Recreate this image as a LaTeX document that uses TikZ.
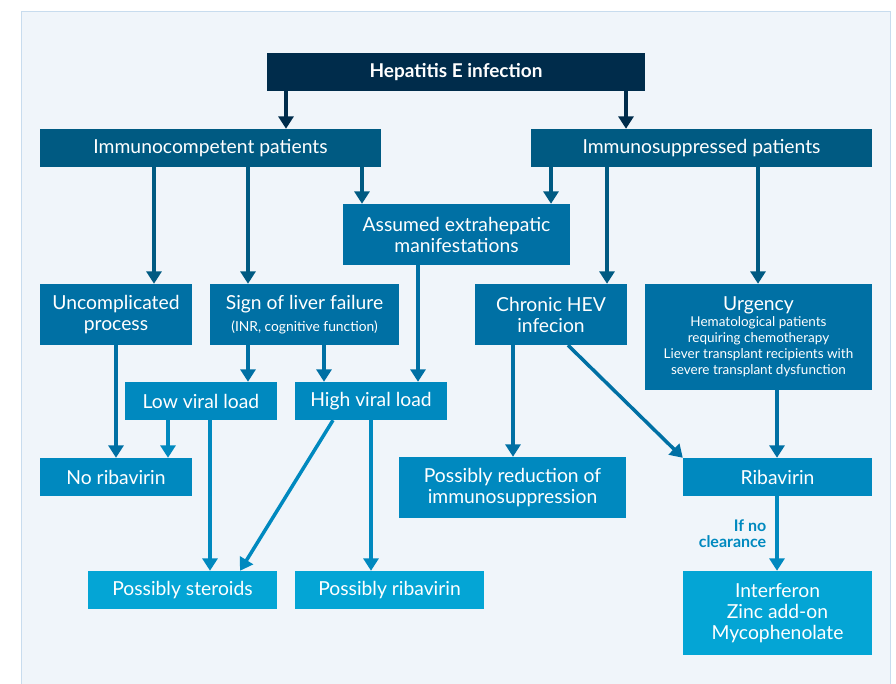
\documentclass[tikz,border=0pt]{standalone}
\usepackage{fontspec}
\setmainfont{Lato}
\usepackage{xcolor}
\usepackage{tikz}
\usetikzlibrary{arrows.meta,positioning,calc}

\definecolor{panel}{HTML}{F0F5FA}
\definecolor{panelline}{HTML}{C8DCEE}
\definecolor{navy}{HTML}{002C4B}
\definecolor{tealA}{HTML}{005A82}
\definecolor{tealB}{HTML}{0070A4}
\definecolor{tealC}{HTML}{0089BF}
\definecolor{tealD}{HTML}{04A5D5}

\begin{document}
\begin{tikzpicture}[x=1pt,y=-1pt,>={Triangle[width=15pt,length=12.5pt]},
  box/.style={inner sep=0pt,align=center,text=white,font=\fontsize{19.3}{21}\selectfont},
  flow/.style={->,line width=3.5pt},
  note/.style={inner sep=0pt,align=right,text=tealC,font=\bfseries\fontsize{16}{16}\selectfont}]
 \useasboundingbox (0,0) rectangle (896,683);
 \clip (0,0) rectangle (896,683);
 \fill[panel] (21,11) rectangle (890,700);
 \draw[panelline,line width=1pt] (21,700) |- (890,11) -- (890,700);

 \node[box,fill=navy,minimum width=378pt,minimum height=38pt,font=\bfseries\fontsize{19}{21}\selectfont] (hep) at (456,72) {Hepatitis E infection};
 \node[box,fill=tealA,minimum width=341pt,minimum height=38pt] (comp) at (210.5,148) {Immunocompetent patients};
 \node[box,fill=tealA,minimum width=341pt,minimum height=38pt] (supp) at (701.5,148) {Immunosuppressed patients};
 \node[box,fill=tealB,minimum width=227pt,minimum height=61pt] (extra) at (456.5,234.5) {Assumed extrahepatic\\manifestations};
 \node[box,fill=tealB,minimum width=152pt,minimum height=61pt] (unc) at (116,314.5) {Uncomplicated\\process};
 \node[box,fill=tealB,minimum width=189pt,minimum height=61pt] (liver) at (304.5,314.5)
  {Sign of liver failure\\[1pt]{\fontsize{13.8}{16}\selectfont(INR, cognitive function)}};
 \node[box,fill=tealB,minimum width=152pt,minimum height=61pt] (chron) at (551,314.5) {Chronic HEV\\infecion};
 \node[box,fill=tealB,minimum width=227pt,minimum height=106pt,text width=227pt,align=flush center] (urg) at (758.5,337)
  {Urgency\par{\fontsize{13.5}{16}\selectfont Hematological patients\\requiring chemotherapy\\Liever transplant recipients with\\severe transplant dysfunction\par}};
 \node[box,fill=tealC,minimum width=152pt,minimum height=38pt] (low) at (201,401) {Low viral load};
 \node[box,fill=tealC,minimum width=152pt,minimum height=38pt] (high) at (371,401) {High viral load};
 \node[box,fill=tealC,minimum width=152pt,minimum height=38pt] (norib) at (116,477) {No ribavirin};
 \node[box,fill=tealC,minimum width=227pt,minimum height=61pt] (reduce) at (512.5,487.5) {Possibly reduction of\\immunosuppression};
 \node[box,fill=tealC,minimum width=189pt,minimum height=38pt] (rib) at (777.5,477) {Ribavirin};
 \node[box,fill=tealD,minimum width=189pt,minimum height=38pt] (ster) at (182.5,590) {Possibly steroids};
 \node[box,fill=tealD,minimum width=189pt,minimum height=38pt] (prib) at (389.5,590) {Possibly ribavirin};
 \node[box,fill=tealD,minimum width=189pt,minimum height=84pt] (ifn) at (777.5,613) {Interferon\\Zinc add-on\\Mycophenolate};

 % first split
 \draw[flow,navy] (hep.south -| 286,0) -- (comp.north -| 286,0);
 \draw[flow,navy] (hep.south -| 626,0) -- (supp.north -| 626,0);
 % immunocompetent
 \draw[flow,tealA] (comp.south -| 154,0) -- (unc.north -| 154,0);
 \draw[flow,tealA] (comp.south -| 248,0) -- (liver.north -| 248,0);
 \draw[flow,tealA] (comp.south -| 362,0) -- (extra.north -| 362,0);
 % immunosuppressed
 \draw[flow,tealA] (supp.south -| 551,0) -- (extra.north -| 551,0);
 \draw[flow,tealA] (supp.south -| 607,0) -- (chron.north -| 607,0);
 \draw[flow,tealA] (supp.south -| 758,0) -- (urg.north -| 758,0);
 % third row
 \draw[flow,tealB] (unc.south) -- (norib.north);
 \draw[flow,tealB] (liver.south -| 248,0) -- (low.north -| 248,0);
 \draw[flow,tealB] (liver.south -| 324,0) -- (high.north -| 324,0);
 \draw[flow,tealB] (extra.south -| 418,0) -- (high.north -| 418,0);
 \draw[flow,tealB] (chron.south -| 513,0) -- (reduce.north -| 513,0);
 \draw[flow,tealB] (chron.south -| 568,0) -- (rib.north west);
 \draw[flow,tealB] (urg.south -| 777,0) -- (rib.north -| 777,0);
 % viral load
 \draw[flow,tealC] (low.south -| 168,0) -- (norib.north -| 168,0);
 \draw[flow,tealC] (low.south -| 210,0) -- (ster.north -| 210,0);
 \draw[flow,tealC] (high.south -| 333,0) -- (ster.north -| 240,0);
 \draw[flow,tealC] (high.south -| 371,0) -- (prib.north -| 371,0);
 \draw[flow,tealC] (rib.south -| 777,0) -- node[note,left=9pt] {If no\\clearance} (ifn.north -| 777,0);
\end{tikzpicture}
\end{document}
